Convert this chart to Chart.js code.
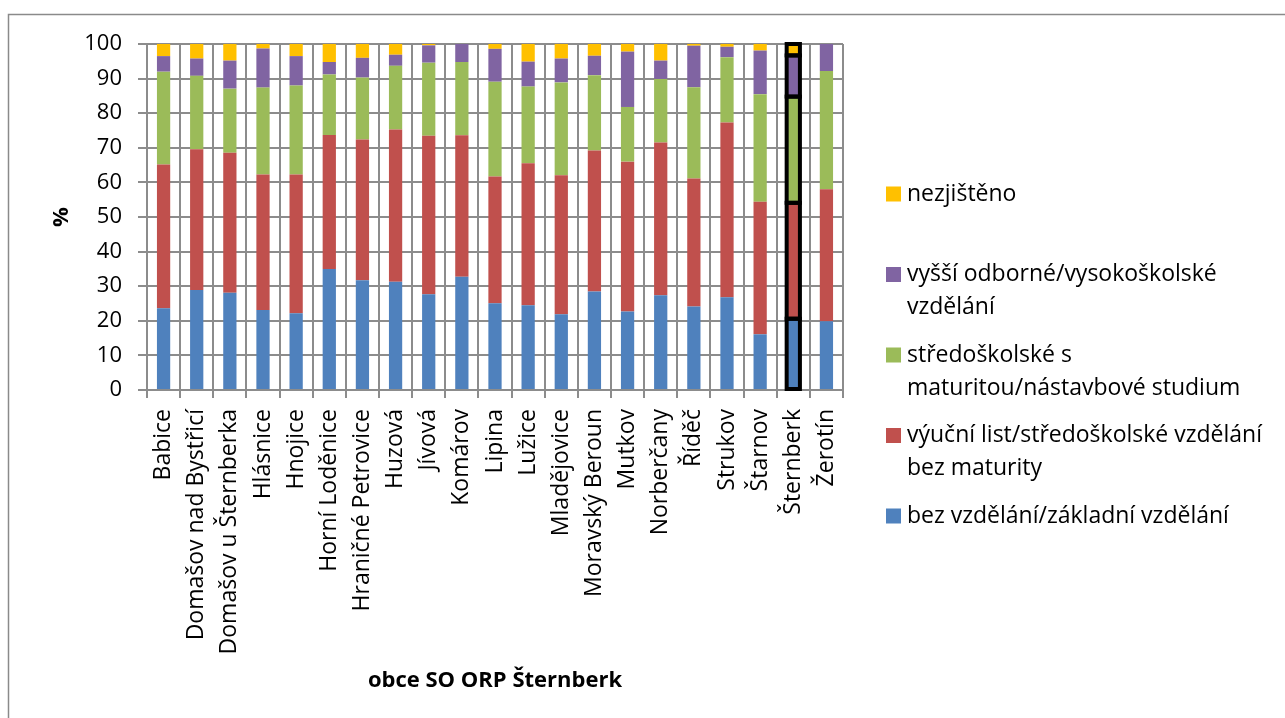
<!DOCTYPE html>
<html>
<head>
<meta charset="utf-8">
<script src="https://cdn.jsdelivr.net/npm/chart.js@4/dist/chart.umd.min.js"></script>
<style>
  html, body { margin: 0; padding: 0; background: #fff; }
  #box { width: 1285px; height: 718px; }
</style>
</head>
<body>
<div id="box"><canvas id="graf" width="1285" height="718"></canvas></div>
<script>
const obce = ["Babice", "Domašov nad Bystřicí", "Domašov u Šternberka", "Hlásnice", "Hnojice",
  "Horní Loděnice", "Hraničné Petrovice", "Huzová", "Jívová", "Komárov", "Lipina", "Lužice",
  "Mladějovice", "Moravský Beroun", "Mutkov", "Norberčany", "Říděč", "Strukov", "Štarnov",
  "Šternberk", "Žerotín"];

const bezVzdelani = [23.6, 28.9, 28.1, 23.1, 22.2, 35.0, 31.7, 31.3, 27.7, 32.7, 25.1, 24.5, 21.9, 28.5, 22.7, 27.4, 24.1, 26.8, 16.1, 20.6, 19.9];
const vyucniList = [41.6, 40.7, 40.5, 39.2, 40.1, 38.7, 40.7, 44.0, 45.8, 40.9, 36.6, 41.0, 40.2, 40.7, 43.3, 44.1, 37.0, 50.5, 38.3, 33.5, 38.1];
const maturita = [26.8, 21.2, 18.5, 25.1, 25.7, 17.5, 17.9, 18.4, 21.1, 21.2, 27.4, 22.2, 26.8, 21.8, 15.8, 18.4, 26.4, 18.9, 31.1, 30.7, 34.2];
const vysokoskolske = [4.5, 5.0, 8.1, 11.3, 8.5, 3.6, 5.7, 3.2, 5.0, 5.2, 9.5, 7.2, 6.9, 5.6, 16.0, 5.3, 12.0, 3.0, 12.6, 11.9, 7.8];
const nezjisteno = [3.5, 4.2, 4.8, 1.3, 3.5, 5.2, 4.0, 3.1, 0.4, 0.0, 1.4, 5.1, 4.2, 3.4, 2.2, 4.8, 0.5, 0.8, 1.9, 3.3, 0.0];

const yTicks = [0, 10, 20, 30, 40, 50, 60, 70, 80, 90, 100];

const nazvyRad = [
  ["bez vzdělání/základní vzdělání"],
  ["výuční list/středoškolské vzdělání", "bez maturity"],
  ["středoškolské s", "maturitou/nástavbové studium"],
  ["vyšší odborné/vysokoškolské", "vzdělání"],
  ["nezjištěno"]
];
const barvy = ["#4F81BD", "#C0504D", "#9BBB59", "#8064A2", "#FFC000"];
const zvyraznit = "Šternberk";

const pismo = "'Open Sans', sans-serif";

const ramecek = {
  id: "ramecek",
  beforeDraw(chart) {
    const ctx = chart.ctx;
    ctx.save();
    ctx.strokeStyle = "#8a8a8a";
    ctx.lineWidth = 1.5;
    ctx.strokeRect(8.5, 14.5, chart.width + 20, chart.height + 20);
    ctx.restore();
  }
};

// cerny obrys kolem sloupce Šternberk
const obrys = {
  id: "obrys",
  afterDatasetsDraw(chart) {
    const i = obce.indexOf(zvyraznit);
    const ctx = chart.ctx;
    ctx.save();
    ctx.strokeStyle = "#000";
    ctx.lineWidth = 4;
    chart.data.datasets.forEach((ds, d) => {
      const el = chart.getDatasetMeta(d).data[i];
      if (!el) return;
      const p = el.getProps(["x", "y", "base", "width"], true);
      if (Math.abs(p.base - p.y) < 0.5) return;
      ctx.strokeRect(p.x - p.width / 2, p.y, p.width, p.base - p.y);
    });
    ctx.restore();
  }
};

const legenda = {
  id: "legenda",
  afterDraw(chart) {
    const ctx = chart.ctx;
    const x0 = chart.chartArea.right + 43;
    let y = 194;
    ctx.save();
    ctx.font = "23px " + pismo;
    ctx.textBaseline = "middle";
    for (let k = nazvyRad.length - 1; k >= 0; k--) {
      ctx.fillStyle = barvy[k];
      ctx.fillRect(x0, y - 7.5, 15, 15);
      ctx.fillStyle = "#000";
      nazvyRad[k].forEach((radek, r) => {
        ctx.fillText(radek, x0 + 21, y + r * 33);
      });
      y += 80.5;
    }
    ctx.restore();
  }
};

const datasety = [bezVzdelani, vyucniList, maturita, vysokoskolske, nezjisteno].map((hodnoty, k) => ({
  label: nazvyRad[k].join(" "),
  data: hodnoty,
  backgroundColor: barvy[k],
  borderWidth: 0,
  barPercentage: 0.4,
  categoryPercentage: 1
}));

new Chart(document.getElementById("graf"), {
  type: "bar",
  data: { labels: obce, datasets: datasety },
  plugins: [ramecek, obrys, legenda],
  options: {
    responsive: false,
    animation: false,
    layout: { padding: { left: 8, top: 44, right: 442, bottom: 0 } },
    plugins: {
      legend: { display: false },
      tooltip: { enabled: false }
    },
    scales: {
      x: {
        stacked: true,
        afterFit: (s) => { s.height = 328; },
        grid: { color: "#8c8c8c", lineWidth: 2, tickLength: 8, offset: true },
        border: { color: "#8c8c8c", width: 2 },
        ticks: {
          color: "#000",
          font: { family: pismo, size: 23 },
          maxRotation: 90,
          minRotation: 90,
          autoSkip: false,
          padding: 11
        },
        title: {
          display: true,
          text: "obce SO ORP Šternberk",
          color: "#000",
          font: { family: pismo, size: 22, weight: "bold" },
          padding: { top: 0, bottom: 24 }
        }
      },
      y: {
        stacked: true,
        min: 0,
        max: 100,
        afterFit: (s) => { s.width = 139; },
        afterBuildTicks: (s) => { s.ticks = yTicks.map((v) => ({ value: v })); },
        grid: { color: "#8c8c8c", lineWidth: 2, tickLength: 9 },
        border: { color: "#8c8c8c", width: 2 },
        ticks: {
          color: "#000",
          font: { family: pismo, size: 22 },
          padding: 16
        },
        title: {
          display: true,
          text: "%",
          color: "#000",
          font: { family: pismo, size: 22, weight: "bold" },
          padding: { top: 41, bottom: 0 }
        }
      }
    }
  }
});
</script>
</body>
</html>
